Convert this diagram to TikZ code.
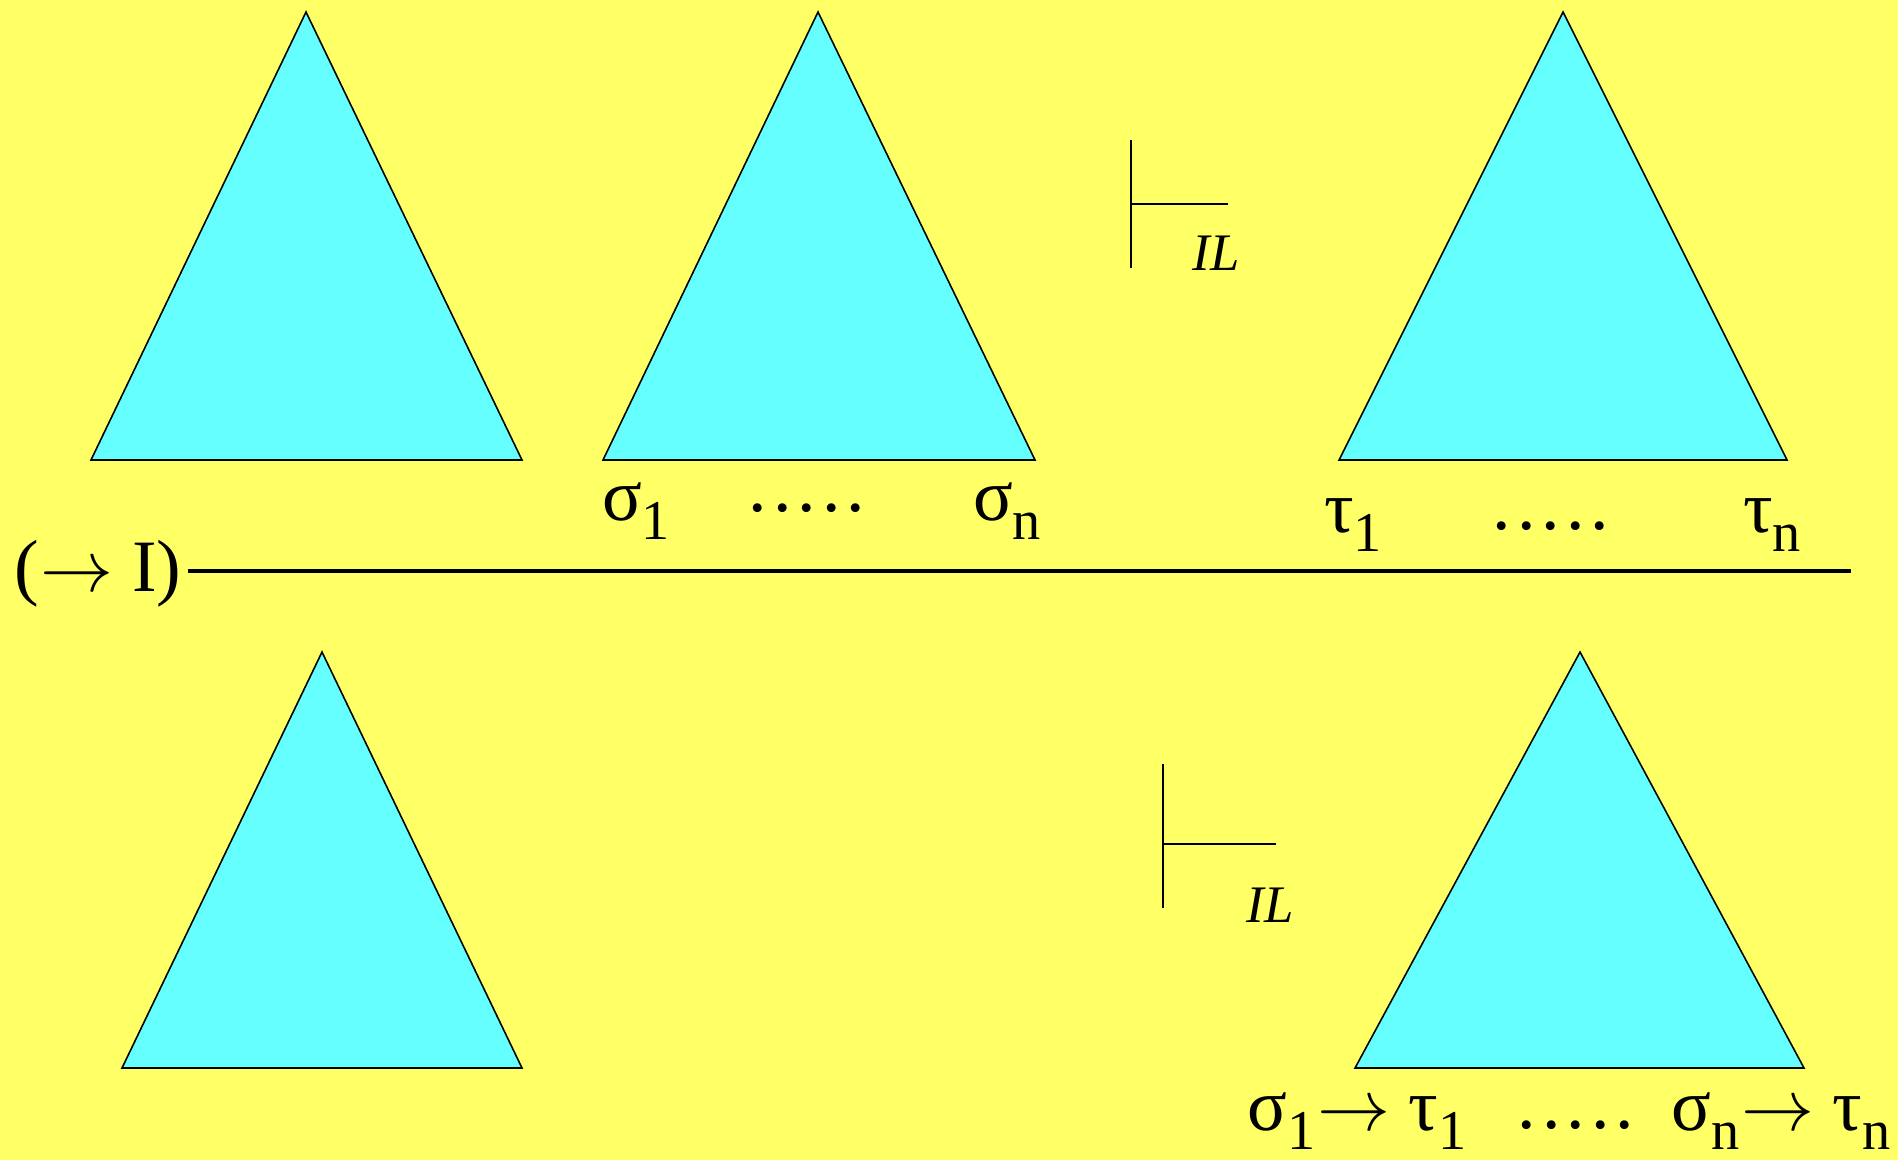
\documentclass[tikz,border=0pt]{standalone}
\usepackage{fontspec}
\setmainfont{Liberation Serif}
\usepackage{tikz}
\usetikzlibrary{positioning}
\definecolor{slideyellow}{rgb}{1.00,1.00,0.40}
\definecolor{treecyan}{rgb}{0.40,1.00,1.00}
\newcommand{\lsub}[1]{\raisebox{-5.5pt}{\fontsize{16}{16}\selectfont #1}}
\newcommand{\fivedots}{.\kern1.7pt.\kern1.7pt.\kern1.7pt.\kern1.7pt.}
\newcommand{\impl}{\kern.5pt$\rightarrow$}
\tikzset{
  tree/.style={
    draw=black,
    fill=treecyan,
    line width=.45pt,
    line join=miter
  },
  lbl/.style={
    anchor=base,
    inner sep=0pt,
    font=\fontsize{21}{21}\selectfont
  },
  il/.style={
    anchor=base,
    inner sep=0pt,
    font=\fontsize{15}{15}\selectfont\itshape
  },
  turn/.style={
    line width=.6pt
  },
  rule/.style={
    line width=.9pt
  }
}

\begin{document}
\begin{tikzpicture}[x=0.01cm,y=-0.01cm]
\path[fill=slideyellow,use as bounding box] (0,0) rectangle (1898,1160);
% premises
\draw[tree] (306,12) -- (522,460) -- (91,460) -- cycle;
\draw[tree] (818,12) -- (1035,460) -- (603,460) -- cycle;
\draw[tree] (1563,12) -- (1787,460) -- (1339,460) -- cycle;
\node[lbl] (s1) at (636,520) {σ\lsub{1}};
\node[lbl] (sdots) at (807,511) {\fivedots};
\node[lbl] (sn) at (1007,520) {σ\lsub{n}};
\node[lbl] (t1) at (1353,532) {τ\lsub{1}};
\node[lbl] (tdots) at (1551,529) {\fivedots};
\node[lbl] (tn) at (1772,532) {τ\lsub{n}};
% turnstile, top
\coordinate (vt1) at (1131,140);
\coordinate (vb1) at (1131,268);
\coordinate (vm1) at (1131,204);
\coordinate (he1) at (1228,204);
\draw[turn] (vt1) -- (vb1);
\draw[turn] (vm1) -- (he1);
\node[il] (il1) at (1216,270) {IL};
% inference line
\node[lbl] (rulename) at (98,591) {(\impl{} I)};
\coordinate (ruleL) at (188,571);
\coordinate (ruleR) at (1851,571);
\draw[rule] (ruleL) -- (ruleR);
% conclusion
\draw[tree] (322,652) -- (522,1068) -- (122,1068) -- cycle;
\draw[tree] (1580,652) -- (1804,1068) -- (1355,1068) -- cycle;
\coordinate (vt2) at (1163,764);
\coordinate (vb2) at (1163,908);
\coordinate (vm2) at (1163,844);
\coordinate (he2) at (1276,844);
\draw[turn] (vt2) -- (vb2);
\draw[turn] (vm2) -- (he2);
\node[il] (il2) at (1270,922) {IL};
\node[lbl] (st1) at (1357,1130) {σ\lsub{1}\impl{} τ\lsub{1}};
\node[lbl] (stdots) at (1576,1128) {\fivedots};
\node[lbl] (stn) at (1781,1130) {σ\lsub{n}\impl{} τ\lsub{n}};
\end{tikzpicture}
\end{document}
